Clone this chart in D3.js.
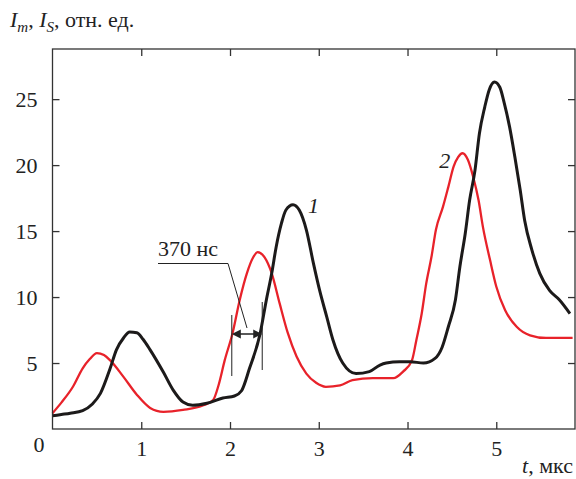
<!DOCTYPE html>
<html><head><meta charset="utf-8">
<script src="https://cdn.jsdelivr.net/npm/d3@7"></script>
<style>
html,body{margin:0;padding:0;background:#fff;}
</style></head>
<body><svg id="c" width="576" height="479" font-family="serif"></svg>
<script>
// Curve 1 (black)
const t1 = [0,0.1,0.2,0.34,0.45,0.54,0.65,0.72,0.8,0.87,0.95,1.02,1.1,1.25,1.36,1.47,1.58,1.74,1.92,2.05,2.13,2.22,2.34,2.41,2.47,2.52,2.58,2.63,2.71,2.78,2.86,2.94,3.01,3.09,3.16,3.27,3.42,3.57,3.69,3.76,3.91,4.03,4.18,4.31,4.39,4.46,4.54,4.59,4.65,4.70,4.76,4.81,4.87,4.92,4.98,5.04,5.09,5.15,5.21,5.27,5.32,5.40,5.49,5.60,5.71,5.83];
const v1 = [1.0,1.1,1.2,1.4,1.9,2.7,4.6,6.0,6.9,7.35,7.3,6.8,6.0,4.3,2.95,2.05,1.8,1.95,2.35,2.5,2.9,4.6,7.25,9.8,11.8,13.8,15.6,16.6,17.0,16.6,15.1,12.55,10.5,8.5,6.75,5.0,4.2,4.35,4.85,5.0,5.1,5.1,5.0,5.35,6.2,7.75,9.8,12.3,14.8,17.35,19.6,22.4,24.4,25.7,26.3,25.9,24.7,22.9,20.6,18.1,15.8,13.6,11.8,10.5,9.8,8.75];
// Curve 2 (red)
const t2 = [0,0.1,0.23,0.34,0.42,0.5,0.58,0.65,0.8,0.95,1.1,1.25,1.47,1.7,1.81,1.87,1.94,2.03,2.11,2.19,2.26,2.31,2.39,2.47,2.56,2.65,2.75,2.86,2.97,3.08,3.24,3.38,3.61,3.84,3.95,4.05,4.10,4.16,4.21,4.27,4.32,4.40,4.46,4.52,4.57,4.62,4.68,4.74,4.80,4.85,4.93,5.00,5.10,5.23,5.38,5.56,5.86];
const v2 = [1.2,2.0,3.2,4.6,5.3,5.75,5.6,5.2,3.95,2.6,1.6,1.3,1.45,1.8,2.2,3.3,5.2,7.3,9.8,11.8,13.0,13.4,13.0,11.8,9.5,7.3,5.5,4.2,3.5,3.2,3.3,3.7,3.85,3.85,4.35,5.2,6.75,8.75,11.0,13.05,15.1,16.85,18.35,19.9,20.6,20.9,20.4,19.1,17.35,15.3,12.8,10.8,9.0,7.75,7.1,6.9,6.9];
const xTicks = [1,2,3,4,5];
const yTicks = [5,10,15,20,25];
const xDomain = [0,5.887];
const yDomain = [0,28.8];
const intervalLabel = "370 нс";
const intervalEdges = [2.02, 2.363];

const FONT = "serif";
const FS = 22;
const svg = d3.select("#c");
const L=52.5, R=575, T=49, B=429;
const x = d3.scaleLinear().domain(xDomain).range([L,R]);
const y = d3.scaleLinear().domain(yDomain).range([B,T]);

const root = svg.append("g").attr("font-family",FONT);
const line = d3.line().x(d=>x(d[0])).y(d=>y(d[1])).curve(d3.curveMonotoneX);

root.append("path").datum(t2.map((t,i)=>[t,v2[i]]))
  .attr("d",line).attr("fill","none").attr("stroke","#e8222a").attr("stroke-width",2.3).attr("stroke-linejoin","round");
root.append("path").datum(t1.map((t,i)=>[t,v1[i]]))
  .attr("d",line).attr("fill","none").attr("stroke","#1c1a1a").attr("stroke-width",3).attr("stroke-linejoin","round");

const axisCol="#333";
root.append("rect").attr("x",L).attr("y",T).attr("width",R-L).attr("height",B-T)
  .attr("fill","none").attr("stroke",axisCol).attr("stroke-width",1.3);

const gBottom = root.append("g").attr("transform",`translate(0,${B})`)
  .call(d3.axisBottom(x).tickValues(xTicks).tickSizeInner(-7).tickSizeOuter(0).tickPadding(11).tickFormat(d3.format("d")));
const gTop = root.append("g").attr("transform",`translate(0,${T})`)
  .call(d3.axisTop(x).tickValues(xTicks).tickSizeInner(-7).tickSizeOuter(0).tickFormat(""));
const gLeft = root.append("g").attr("transform",`translate(${L},0)`)
  .call(d3.axisLeft(y).tickValues(yTicks).tickSizeInner(-7).tickSizeOuter(0).tickPadding(15).tickFormat(d3.format("d")));
const gRight = root.append("g").attr("transform",`translate(${R},0)`)
  .call(d3.axisRight(y).tickValues(yTicks).tickSizeInner(-7).tickSizeOuter(0).tickFormat(""));
[gBottom,gTop,gLeft,gRight].forEach(g=>{
  g.attr("font-family",FONT).attr("font-size",FS);
  g.select(".domain").remove();
  g.selectAll(".tick line").attr("stroke",axisCol).attr("stroke-width",1.3);
  g.selectAll("text").attr("fill","#222").attr("font-family",FONT);
});
gBottom.selectAll("text").attr("dy","0.71em");

function txt(xp,yp){ return root.append("text").attr("x",xp).attr("y",yp).attr("font-family",FONT).attr("font-size",FS).attr("fill","#222"); }

txt(39,452).attr("text-anchor","middle").text("0");

const xt = txt(573,473).attr("text-anchor","end");
xt.append("tspan").attr("font-style","italic").text("t");
xt.append("tspan").text(", мкс");
const ttl = txt(10,27);
ttl.append("tspan").attr("font-style","italic").text("I");
ttl.append("tspan").attr("font-style","italic").attr("font-size",15).attr("dy",5).text("m");
ttl.append("tspan").attr("dy",-5).text(", ");
ttl.append("tspan").attr("font-style","italic").text("I");
ttl.append("tspan").attr("font-style","italic").attr("font-size",15).attr("dy",5).text("S");
ttl.append("tspan").attr("dy",-5).text(", отн. ед.");

txt(x(2.94),213).attr("font-style","italic").attr("text-anchor","middle").text("1");
txt(x(4.42),168).attr("font-style","italic").attr("text-anchor","middle").text("2");

const xa = x(intervalEdges[0]), xb = x(intervalEdges[1]);
const ann = root.append("g").attr("stroke","#222").attr("stroke-width",1);
ann.append("line").attr("x1",xa).attr("x2",xa).attr("y1",315).attr("y2",376);
ann.append("line").attr("x1",xb).attr("x2",xb).attr("y1",302).attr("y2",370);
ann.append("line").attr("x1",xa+7).attr("x2",xb-7).attr("y1",334).attr("y2",334).attr("stroke-width",1.5);
root.append("path").attr("d",`M${xa},334 L${xa+9},329.5 L${xa+9},338.5 Z`).attr("fill","#222");
root.append("path").attr("d",`M${xb},334 L${xb-9},329.5 L${xb-9},338.5 Z`).attr("fill","#222");
ann.append("polyline").attr("points",`158,263.5 228,263.5 247,328`).attr("fill","none");
txt(158,256).text(intervalLabel);
</script></body></html>
